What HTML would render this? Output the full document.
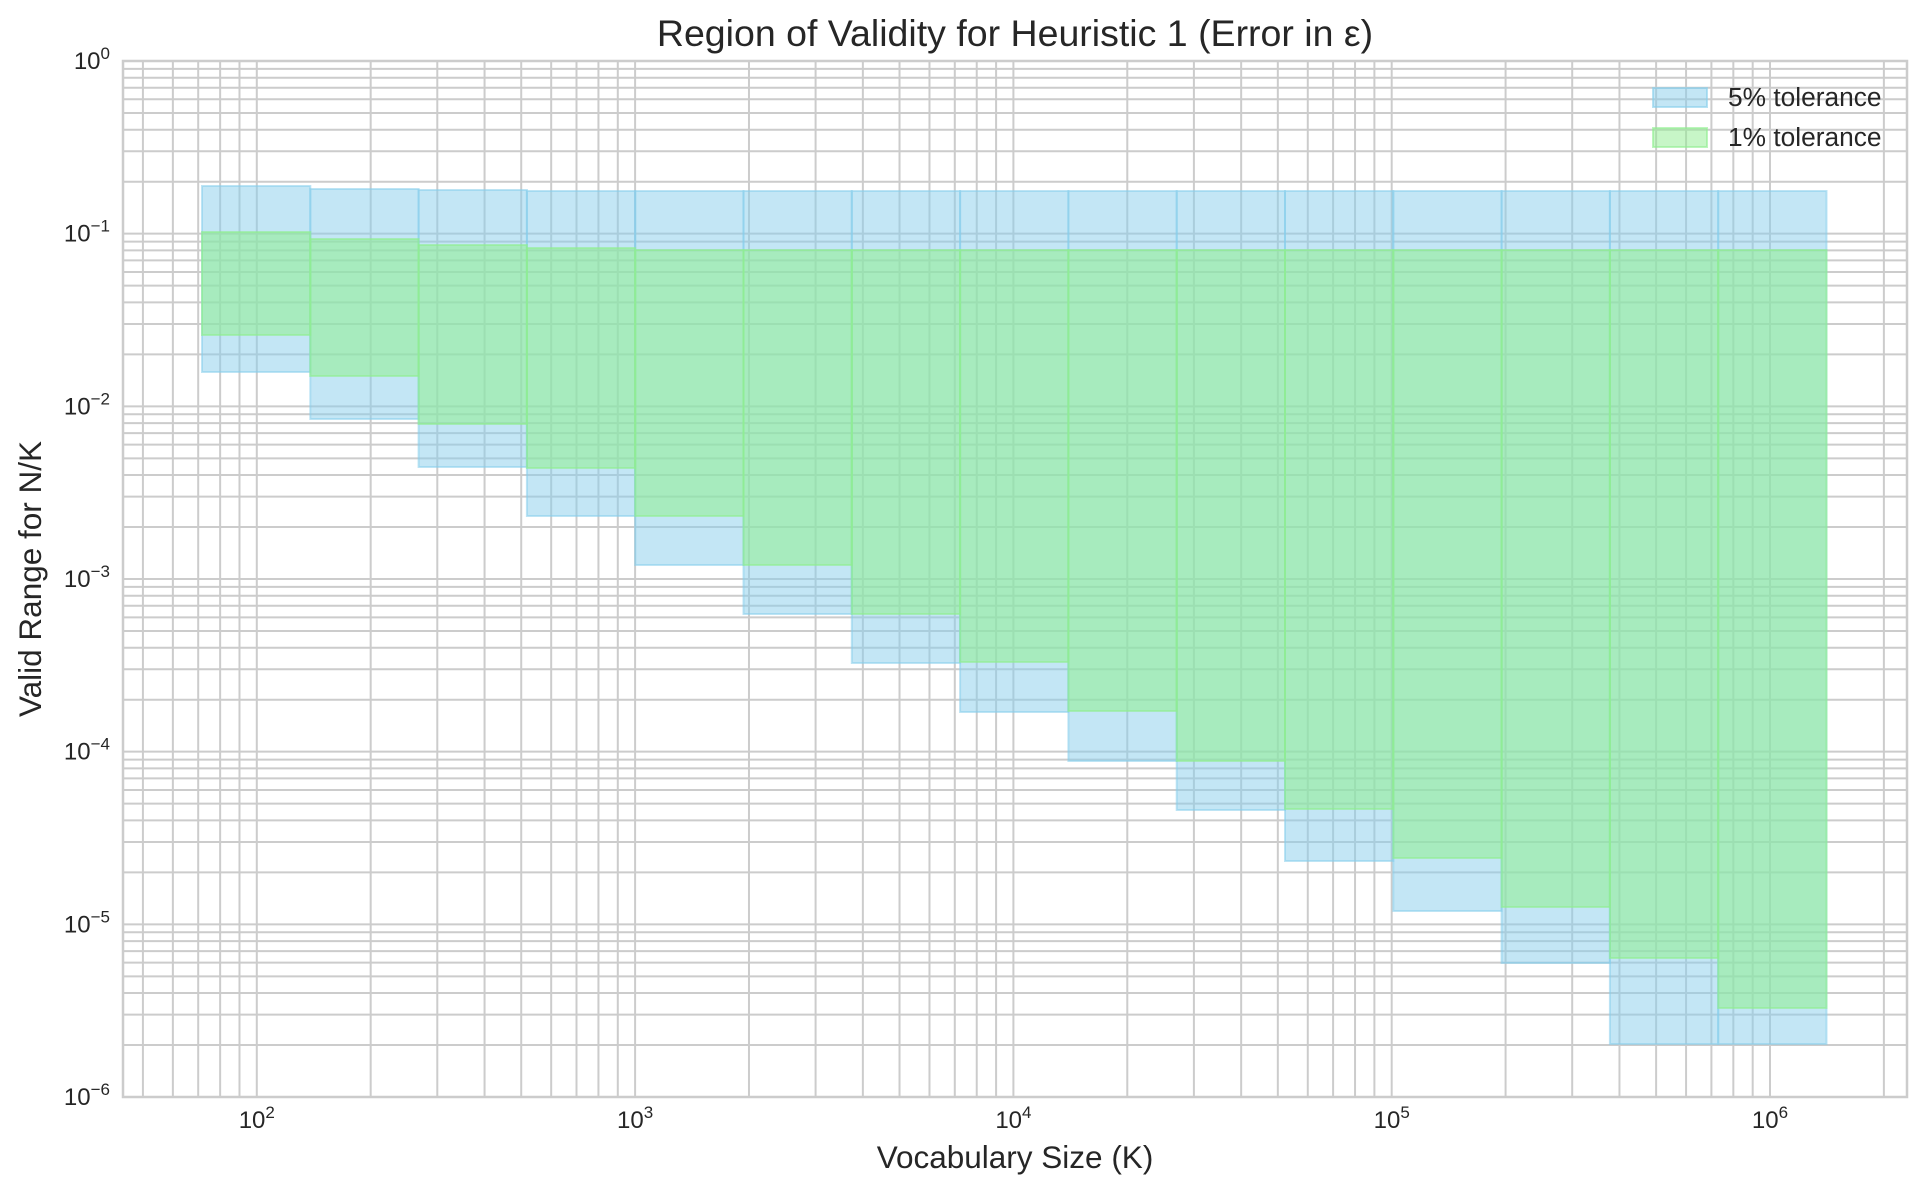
<!DOCTYPE html>
<html><head><meta charset="utf-8"><style>
html,body{margin:0;padding:0;background:#fff;}
svg text{font-family:"Liberation Sans",sans-serif;fill:#262626;}
</style></head><body>
<svg id="s" width="1926" height="1194" xmlns="http://www.w3.org/2000/svg">
<rect width="1926" height="1194" fill="#fff"/>
<g id="grid"></g>
<g id="bars"></g>
<rect x="123" y="61" width="1784" height="1036" fill="none" stroke="#cccccc" stroke-width="2.5"/>
<g id="ticks"></g>
<text x="1015" y="46" font-size="37.5" text-anchor="middle">Region of Validity for Heuristic 1 (Error in ε)</text>
<text x="1015" y="1168" font-size="31.5" text-anchor="middle">Vocabulary Size (K)</text>
<text transform="translate(41,579) rotate(-90)" font-size="31.5" text-anchor="middle">Valid Range for N/K</text>
<rect x="1653" y="88" width="54" height="19" fill="rgb(135,206,235)" fill-opacity="0.5" stroke="rgb(135,206,235)" stroke-opacity="0.6" stroke-width="2"/>
<rect x="1653" y="128" width="54" height="19" fill="rgb(144,238,144)" fill-opacity="0.5" stroke="rgb(144,238,144)" stroke-opacity="0.6" stroke-width="2"/>
<text x="1728" y="106" font-size="26.3">5% tolerance</text>
<text x="1728" y="146" font-size="26.3">1% tolerance</text>
</svg>
<script>
var NS="http://www.w3.org/2000/svg";
function el(p,t,a,txt){var e=document.createElementNS(NS,t);for(var k in a)e.setAttribute(k,a[k]);if(txt!==undefined)e.textContent=txt;document.getElementById(p).appendChild(e);return e;}
var L=123,R=1907,T=61,B=1097;
function X(v){return 1770+(Math.log10(v)-6)*378.3;}
function Y(v){return 61+(-Math.log10(v))*172.67;}
for(var d=1;d<=6;d++){for(var m=1;m<=9;m++){var v=m*Math.pow(10,d);var x=X(v);if(x>L+1&&x<R-1)el("grid","line",{x1:x,x2:x,y1:T,y2:B,stroke:"#cccccc","stroke-width":2});}}
for(var d=-6;d<0;d++){for(var m=1;m<=9;m++){var v=m*Math.pow(10,d);var y=Y(v);if(y>T+1&&y<B-1)el("grid","line",{x1:L,x2:R,y1:y,y2:y,stroke:"#cccccc","stroke-width":2});}}
var bt=[186,189,190,191,191,191,191,191,191,191,191,191,191,191,191];
var gt=[232,239,245,248,250,250,250,250,250,250,250,250,250,250,250];
var gb=[335,376,424,468,516,565,614,662,711,761,809,858,907,958,1008];
var bb=[372,419,467,516,565,614,663,712,761,810,861,911,963,1044,1044];
for(var i=0;i<15;i++){var x0=202+i*108.3,w=108.3;
el("bars","rect",{x:x0,y:bt[i],width:w,height:bb[i]-bt[i],fill:"rgb(135,206,235)","fill-opacity":0.5,stroke:"rgb(135,206,235)","stroke-opacity":0.55,"stroke-width":2});}
for(var i=0;i<15;i++){var x0=202+i*108.3,w=108.3;
el("bars","rect",{x:x0,y:gt[i],width:w,height:gb[i]-gt[i],fill:"rgb(144,238,144)","fill-opacity":0.55,stroke:"rgb(144,238,144)","stroke-opacity":0.6,"stroke-width":2});}
for(var d=2;d<=6;d++){var t=el("ticks","text",{x:X(Math.pow(10,d)),y:1128,"font-size":24,"text-anchor":"middle"});
t.appendChild(document.createTextNode("10"));var s=document.createElementNS(NS,"tspan");s.setAttribute("dy","-10");s.setAttribute("font-size","17");s.textContent=d;t.appendChild(s);}
for(var d=0;d>=-6;d--){var t=el("ticks","text",{x:110,y:Y(Math.pow(10,d))+8,"font-size":24,"text-anchor":"end"});
t.appendChild(document.createTextNode("10"));var s=document.createElementNS(NS,"tspan");s.setAttribute("dy","-10");s.setAttribute("font-size","17");s.textContent=(d<0?"−"+(-d):"0");t.appendChild(s);}
</script>
</body></html>
